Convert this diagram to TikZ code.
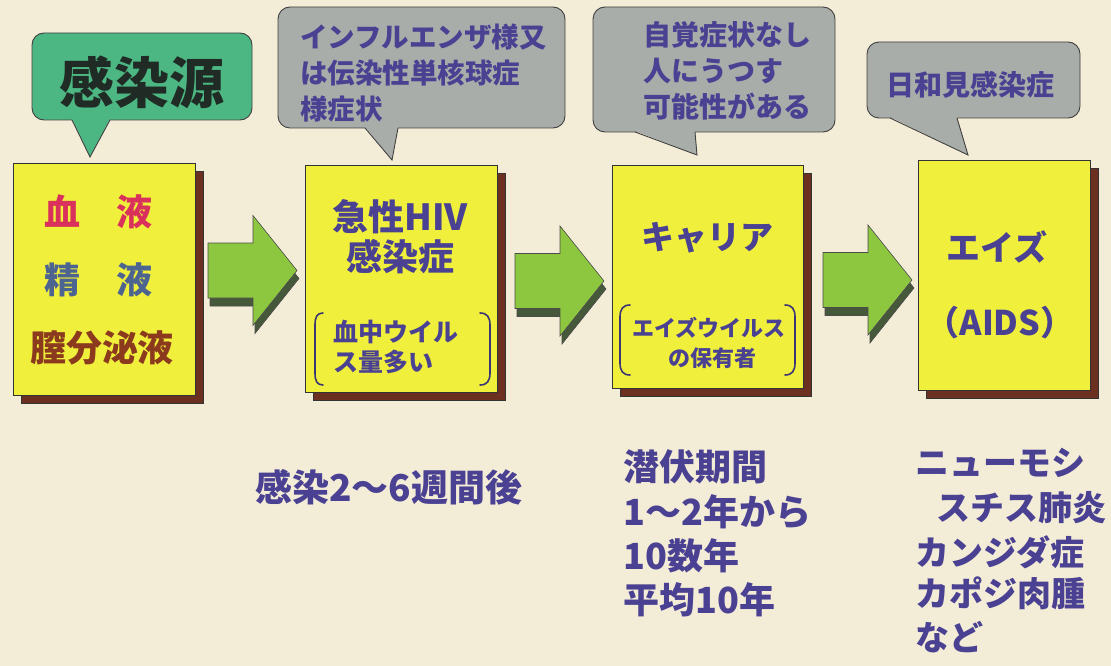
\documentclass[tikz,border=0pt]{standalone}
\usepackage{fontspec}
\setmainfont{Noto Sans CJK JP}
\usetikzlibrary{shadows}
\definecolor{bgc}{HTML}{F3ECD7}
\definecolor{boxy}{HTML}{F0F03C}
\definecolor{shbrown}{HTML}{6B3020}
\definecolor{agreen}{HTML}{8DC63F}
\definecolor{ashadow}{HTML}{45583A}
\definecolor{bubgray}{HTML}{A8ADA9}
\definecolor{bubgreen}{HTML}{4DB784}
\definecolor{tpurple}{HTML}{4A4192}
\definecolor{tred}{HTML}{D9315B}
\definecolor{tsteel}{HTML}{4D6491}
\definecolor{tbrown}{HTML}{8B3A1E}
\definecolor{tdark}{HTML}{1F2B24}
\newcommand\fs[1]{\fontsize{#1pt}{#1pt}\selectfont\bfseries}
\begin{document}
\begin{tikzpicture}[x=1pt,y=-1pt,
  ybox/.style={draw=black!80, line width=0.8pt, fill=boxy,
    drop shadow={shadow xshift=8pt, shadow yshift=-8pt, fill=shbrown, draw=black!80, opacity=1}},
  bubble/.style={draw=black!75, line width=0.9pt, fill=#1, rounded corners=12pt},
  tailline/.style={draw=black!75, line width=0.9pt, line join=miter},
  txt/.style={text=tpurple, inner sep=0pt},
  brk/.style={draw=tpurple!80!black, line width=1.6pt, line cap=round},
  garrow/.pic={
    \filldraw[fill=ashadow, draw=black!70, line width=.6pt, shift={(2,8)}]
      (0,-27.5) -- (45,-27.5) -- (45,-55) -- (89,0) -- (45,55) -- (45,27.5) -- (0,27.5) -- cycle;
    \filldraw[fill=agreen, draw=black!70, line width=.6pt]
      (0,-27.5) -- (45,-27.5) -- (45,-55) -- (89,0) -- (45,55) -- (45,27.5) -- (0,27.5) -- cycle;
  }]
\useasboundingbox (0,0) rectangle (1111,666);
\fill[bgc] (0,0) rectangle (1111,666);

% boxes
\node[ybox, minimum width=182pt, minimum height=232pt] (b1) at (104,279) {};
\node[ybox, minimum width=192pt, minimum height=227pt] (b2) at (401,278.5) {};
\node[ybox, minimum width=191pt, minimum height=223pt] (b3) at (707.5,276.5) {};
\node[ybox, minimum width=172pt, minimum height=230pt] (b4) at (1004,275) {};

% block arrows
\pic at (208,270.5) {garrow};
\pic at (515,281) {garrow};
\pic at (823,280) {garrow};

% callout 1
\node[bubble=bubgreen, minimum width=220pt, minimum height=87pt] (c1) at (142,76.5) {};
\fill[bubgreen] (72,119) -- (90,157) -- (110,119) -- cycle;
\draw[tailline] (72,120) -- (90,157) -- (110,120);
\node[inner sep=0pt, text=tdark, font=\fs{55}] (c1t) at (142,82) {感染源};

% callout 2
\node[bubble=bubgray, minimum width=287pt, minimum height=121pt] (c2) at (421.5,67.5) {};
\fill[bubgray] (365,127) -- (392,160) -- (398,127) -- cycle;
\draw[tailline] (365,128) -- (392,160) -- (398,128);
\node[txt, font=\fs{27.5}, anchor=west] (c2a) at (300,37) {インフルエンザ様又};
\node[txt, font=\fs{27.5}, anchor=west] (c2b) at (300,73) {は伝染性単核球症};
\node[txt, font=\fs{27.5}, anchor=west] (c2c) at (300,109) {様症状};

% callout 3
\node[bubble=bubgray, minimum width=242pt, minimum height=125pt] (c3) at (714,69.5) {};
\fill[bubgray] (635,131) -- (697,155) -- (695,131) -- cycle;
\draw[tailline] (635,132) -- (697,155) -- (695,132);
\node[txt, font=\fs{28}, anchor=west] (c3a) at (643,35) {自覚症状なし};
\node[txt, font=\fs{28}, anchor=west] (c3b) at (643,71) {人にうつす};
\node[txt, font=\fs{28}, anchor=west] (c3c) at (643,107) {可能性がある};

% callout 4
\node[bubble=bubgray, minimum width=213pt, minimum height=76pt] (c4) at (973.5,80) {};
\fill[bubgray] (890,117) -- (968,155) -- (957,117) -- cycle;
\draw[tailline] (890,118) -- (968,155) -- (957,118);
\node[txt, font=\fs{28}] (c4t) at (970,85) {日和見感染症};

% box 1 text
\node[inner sep=0pt, text=tred, font=\fs{36}] (t1a) at (98,212) {血　液};
\node[inner sep=0pt, text=tsteel, font=\fs{36}] (t1b) at (98,280) {精　液};
\node[inner sep=0pt, text=tbrown, font=\fs{36}] (t1c) at (102,348) {膣分泌液};

% box 2 text
\node[txt, font=\fs{36}] (t2a) at (400,217) {急性HIV};
\node[txt, font=\fs{36}] (t2b) at (400,257) {感染症};
\node[txt, font=\fs{25}, anchor=west] (t2c) at (333,332) {血中ウイル};
\node[txt, font=\fs{25}, anchor=west] (t2d) at (333,362) {ス量多い};
\draw[brk] (323,313) .. controls (317,313) and (315,317) .. (315,325) -- (315,373) .. controls (315,381) and (317,385) .. (323,385);
\draw[brk] (480,313) .. controls (487,313) and (490,317) .. (490,325) -- (490,373) .. controls (490,381) and (487,385) .. (480,385);

% box 3 text
\node[txt, font=\fs{33}] (t3a) at (707,238) {キャリア};
\node[txt, font=\fs{22}] (t3b) at (709,328) {エイズウイルス};
\node[txt, font=\fs{22}] (t3c) at (712,358) {の保有者};
\draw[brk] (630,305) .. controls (623,305) and (620,309) .. (620,317) -- (620,363) .. controls (620,371) and (623,375) .. (630,375);
\draw[brk] (785,305) .. controls (792,305) and (795,309) .. (795,317) -- (795,363) .. controls (795,371) and (792,375) .. (785,375);

% box 4 text
\node[txt, font=\fs{34}] (t4a) at (997,247) {エイズ};
\node[txt, font=\fs{34}] (t4b) at (1000,323) {（AIDS）};

% bottom texts
\node[txt, font=\fs{37}, anchor=west] (u2) at (255,487) {感染2～6週間後};
\node[txt, font=\fs{36}, anchor=west] (u3a) at (623,467) {潜伏期間};
\node[txt, font=\fs{36}, anchor=west] (u3b) at (623,512) {1～2年から};
\node[txt, font=\fs{36}, anchor=west] (u3c) at (623,556) {10数年};
\node[txt, font=\fs{36}, anchor=west] (u3d) at (623,600) {平均10年};
\node[txt, font=\fs{34}, anchor=west] (u4a) at (915,463) {ニューモシ};
\node[txt, font=\fs{34}, anchor=west] (u4b) at (936,508) {スチス肺炎};
\node[txt, font=\fs{34}, anchor=west] (u4c) at (915,552) {カンジダ症};
\node[txt, font=\fs{34}, anchor=west] (u4d) at (915,593) {カポジ肉腫};
\node[txt, font=\fs{34}, anchor=west] (u4e) at (915,637) {など};
\end{tikzpicture}
\end{document}
